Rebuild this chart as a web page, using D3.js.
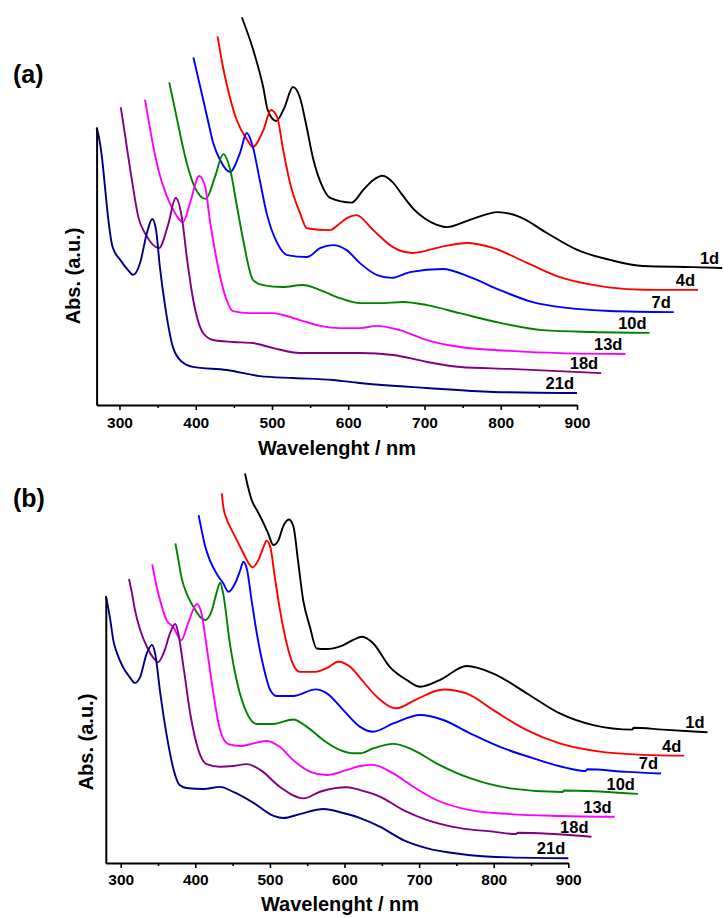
<!DOCTYPE html>
<html>
<head>
<meta charset="utf-8">
<script src="https://cdn.jsdelivr.net/npm/d3@7"></script>
<style>
  body { margin: 0; background: #fff; }
  svg { display: block; }
  text { font-family: "Liberation Sans", Arial, Helvetica, sans-serif; font-weight: bold; fill: #000; }
</style>
</head>
<body>
<svg id="chart" width="723" height="918"></svg>
<script>
// ---- data: UV-Vis spectra, [wavelength nm, absorbance a.u.] ----
const seriesNames = ["1d", "4d", "7d", "10d", "13d", "18d", "21d"];
const seriesColors = ["#000000", "#ff0000", "#0000ff", "#008000", "#ff00ff", "#800080", "#000080"];
const majorTicks = [300, 400, 500, 600, 700, 800, 900];
const minorTicks = [350, 450, 550, 650, 750, 850];

// panel (a)
const a1d = [[270,0.946],[285,0.828],[298,0.695],[304,0.612],[315,0.573],[326,0.622],[337,0.695],[346,0.659],[355,0.551],[363,0.443],[376,0.335],[386,0.296],[414,0.279],[429,0.324],[442,0.360],[455,0.376],[468,0.352],[481,0.305],[495,0.257],[510,0.222],[525,0.200],[539,0.191],[569,0.217],[606,0.245],[635,0.227],[670,0.170],[710,0.109],[753,0.073],[796,0.051],[862,0.047],[900,0.044]];
const a4d = [[270,0.952],[277,0.842],[286,0.734],[295,0.651],[309,0.579],[316,0.554],[330,0.615],[340,0.687],[348,0.662],[356,0.543],[365,0.424],[378,0.317],[387,0.262],[417,0.255],[431,0.281],[440,0.299],[452,0.309],[474,0.255],[500,0.194],[526,0.173],[562,0.194],[597,0.209],[631,0.191],[676,0.137],[719,0.086],[762,0.058],[807,0.043],[850,0.040],[900,0.040]];
const a7d = [[270,0.951],[279,0.845],[288,0.737],[296,0.643],[305,0.582],[318,0.539],[331,0.607],[340,0.679],[348,0.629],[357,0.510],[366,0.391],[380,0.283],[393,0.240],[419,0.233],[436,0.265],[453,0.276],[471,0.258],[488,0.212],[511,0.168],[530,0.158],[554,0.179],[597,0.190],[633,0.161],[672,0.114],[715,0.071],[760,0.050],[816,0.039],[900,0.035]];
const a10d = [[270,0.936],[275,0.873],[284,0.754],[293,0.646],[304,0.556],[318,0.517],[330,0.596],[341,0.678],[350,0.621],[359,0.488],[367,0.369],[380,0.225],[393,0.207],[419,0.200],[445,0.207],[468,0.189],[494,0.160],[520,0.142],[546,0.142],[577,0.146],[608,0.135],[651,0.106],[704,0.071],[760,0.045],[826,0.038],[900,0.035]];
const a13d = [[270,0.949],[274,0.886],[280,0.793],[290,0.671],[299,0.599],[307,0.552],[320,0.509],[329,0.577],[341,0.674],[349,0.635],[355,0.516],[364,0.372],[377,0.228],[385,0.188],[408,0.181],[438,0.181],[451,0.174],[473,0.156],[500,0.135],[526,0.127],[552,0.127],[574,0.135],[604,0.120],[640,0.084],[683,0.059],[749,0.045],[814,0.037],[900,0.034]];
const a18d = [[270,0.996],[274,0.925],[279,0.832],[286,0.709],[293,0.601],[303,0.537],[320,0.490],[332,0.573],[342,0.670],[350,0.601],[357,0.447],[365,0.303],[378,0.184],[391,0.159],[417,0.152],[443,0.148],[470,0.130],[505,0.112],[548,0.112],[584,0.112],[627,0.105],[672,0.080],[715,0.062],[780,0.055],[900,0.040]];
const a21d = [[270,0.997],[273,0.964],[277,0.892],[281,0.784],[285,0.676],[291,0.568],[301,0.522],[311,0.486],[318,0.468],[327,0.511],[336,0.619],[343,0.669],[348,0.629],[353,0.496],[360,0.353],[370,0.209],[382,0.155],[396,0.137],[441,0.126],[484,0.104],[528,0.097],[580,0.090],[615,0.079],[703,0.061],[790,0.047],[900,0.043]];

// panel (b)
const b1d = [[280,0.991],[284,0.941],[289,0.891],[296,0.853],[304,0.809],[311,0.766],[318,0.722],[325,0.741],[331,0.791],[339,0.818],[345,0.791],[351,0.665],[358,0.515],[367,0.415],[376,0.333],[388,0.331],[412,0.346],[425,0.365],[437,0.377],[452,0.352],[474,0.264],[497,0.214],[515,0.189],[541,0.214],[577,0.267],[613,0.239],[658,0.164],[702,0.089],[747,0.045],[799,0.028],[801,0.035],[840,0.028],[900,0.018]];
const b4d = [[280,0.995],[282,0.945],[287,0.895],[291,0.870],[300,0.820],[309,0.770],[316,0.732],[321,0.717],[329,0.744],[336,0.794],[340,0.817],[345,0.794],[351,0.682],[358,0.556],[367,0.431],[376,0.350],[385,0.324],[405,0.324],[422,0.340],[436,0.362],[452,0.343],[467,0.296],[488,0.230],[514,0.187],[541,0.221],[577,0.258],[608,0.243],[644,0.180],[689,0.105],[733,0.055],[787,0.024],[845,0.012],[900,0.009]];
const b7d = [[280,0.992],[284,0.936],[289,0.873],[295,0.823],[304,0.773],[313,0.736],[320,0.704],[329,0.736],[336,0.786],[340,0.817],[345,0.786],[351,0.673],[358,0.548],[367,0.422],[376,0.335],[385,0.312],[407,0.312],[437,0.337],[452,0.322],[474,0.259],[496,0.197],[514,0.178],[541,0.209],[577,0.241],[608,0.222],[644,0.172],[684,0.121],[729,0.078],[773,0.042],[799,0.030],[801,0.037],[854,0.027],[900,0.021]];
const b10d = [[280,0.965],[284,0.902],[288,0.839],[295,0.777],[304,0.727],[313,0.689],[320,0.677],[329,0.714],[335,0.777],[340,0.817],[344,0.777],[353,0.589],[362,0.451],[376,0.326],[389,0.286],[411,0.286],[438,0.303],[456,0.276],[478,0.226],[501,0.188],[519,0.176],[528,0.176],[545,0.194],[572,0.211],[599,0.188],[630,0.138],[675,0.082],[729,0.044],[799,0.030],[801,0.036],[900,0.023]];
const b13d = [[280,0.965],[286,0.881],[293,0.806],[299,0.756],[308,0.730],[319,0.680],[328,0.743],[340,0.816],[346,0.781],[353,0.655],[362,0.480],[371,0.342],[382,0.289],[398,0.282],[416,0.292],[434,0.301],[451,0.279],[469,0.229],[492,0.185],[514,0.173],[541,0.192],[559,0.207],[576,0.211],[603,0.179],[630,0.129],[661,0.079],[706,0.041],[760,0.026],[827,0.019],[900,0.016]];
const b18d = [[280,0.989],[284,0.935],[288,0.872],[295,0.797],[304,0.734],[313,0.691],[319,0.676],[328,0.722],[335,0.785],[342,0.820],[346,0.785],[353,0.659],[362,0.484],[373,0.346],[384,0.293],[402,0.283],[420,0.286],[438,0.293],[456,0.271],[482,0.208],[514,0.164],[536,0.189],[572,0.206],[590,0.195],[617,0.170],[648,0.120],[679,0.083],[724,0.052],[768,0.039],[799,0.030],[801,0.035],[900,0.020]];
const b21d = [[280,1.004],[282,0.977],[286,0.914],[290,0.838],[295,0.789],[303,0.737],[312,0.699],[319,0.677],[326,0.699],[335,0.789],[342,0.820],[346,0.789],[353,0.639],[362,0.474],[371,0.350],[379,0.293],[388,0.282],[411,0.278],[433,0.286],[451,0.267],[478,0.226],[505,0.177],[518,0.169],[540,0.184],[572,0.203],[598,0.188],[621,0.169],[648,0.136],[679,0.086],[710,0.056],[755,0.034],[822,0.021],[900,0.018]];

// waterfall step between consecutive spectra: [nm, a.u.]
const waterfallStepA = [31.74, 0.0748];
const waterfallStepB = [31.1, 0.0789];

// ---- layout ----
const panels = [
  { tag: "(a)", series: [a1d, a4d, a7d, a10d, a13d, a18d, a21d], step: waterfallStepA,
    xDomain: [270, 900], xRange: [96.6, 577], yRange: [405, 127],
    tagXY: [13, 83], yTitleXY: [80, 276], xTitleXY: [337, 455], tickLabelDy: 23 },
  { tag: "(b)", series: [b1d, b4d, b7d, b10d, b13d, b18d, b21d], step: waterfallStepB,
    xDomain: [280, 900], xRange: [105.8, 568.3], yRange: [863, 597],
    tagXY: [13, 507], yTitleXY: [93, 742], xTitleXY: [340, 911], tickLabelDy: 22 }
];

const svg = d3.select("#chart");

panels.forEach(p => {
  const g = svg.append("g");
  const x = d3.scaleLinear().domain(p.xDomain).range(p.xRange);
  const y = d3.scaleLinear().domain([0, 1]).range(p.yRange);
  const n = p.series.length;

  // spectra, back (1d) to front (21d)
  p.series.forEach((data, i) => {
    const k = n - 1 - i;               // depth index of this spectrum
    const dxNm = k * p.step[0], dyAbs = k * p.step[1];
    const line = d3.line()
      .x(d => x(d[0] + dxNm))
      .y(d => y(d[1] + dyAbs))
      .curve(d3.curveMonotoneX);
    g.append("path")
      .datum(data)
      .attr("d", line)
      .attr("fill", "none")
      .attr("stroke", seriesColors[i])
      .attr("stroke-width", 1.9)
      .attr("stroke-linejoin", "round");

    const last = data[data.length - 1];
    g.append("text")
      .attr("x", x(last[0] + dxNm) - 3)
      .attr("y", y(last[1] + dyAbs) - 4)
      .attr("text-anchor", "end")
      .attr("font-size", 16.5)
      .text(seriesNames[i]);
  });

  // x axis: major ticks with labels
  const xAxis = g.append("g")
    .attr("transform", `translate(0,${p.yRange[0]})`)
    .call(d3.axisBottom(x).tickValues(majorTicks).tickSize(5).tickSizeOuter(0).tickFormat(d3.format("d")));
  xAxis.select(".domain").attr("stroke", "#000").attr("stroke-width", 2);
  xAxis.selectAll(".tick line").attr("stroke", "#000").attr("stroke-width", 1.6);
  xAxis.selectAll(".tick text")
    .attr("y", p.tickLabelDy).attr("dy", 0)
    .attr("font-size", 15.5)
    .style("font-family", "'Liberation Sans', Arial, sans-serif")
    .style("font-weight", "bold")
    .attr("fill", "#000");

  // x axis: minor ticks
  const xMinor = g.append("g")
    .attr("transform", `translate(0,${p.yRange[0]})`)
    .call(d3.axisBottom(x).tickValues(minorTicks).tickSize(3).tickSizeOuter(0).tickFormat(""));
  xMinor.select(".domain").remove();
  xMinor.selectAll(".tick line").attr("stroke", "#000").attr("stroke-width", 1.6);

  // y axis: plain line, no ticks
  const yAxis = g.append("g")
    .attr("transform", `translate(${x(p.xDomain[0])},0)`)
    .call(d3.axisLeft(y).tickValues([]).tickSizeOuter(0));
  yAxis.select(".domain").attr("stroke", "#000").attr("stroke-width", 2);

  // titles
  g.append("text")
    .attr("x", p.xTitleXY[0]).attr("y", p.xTitleXY[1])
    .attr("text-anchor", "middle").attr("font-size", 20)
    .text("Wavelenght / nm");
  g.append("text")
    .attr("transform", `translate(${p.yTitleXY[0]},${p.yTitleXY[1]}) rotate(-90)`)
    .attr("text-anchor", "middle").attr("font-size", 20)
    .text("Abs. (a.u.)");
  g.append("text")
    .attr("x", p.tagXY[0]).attr("y", p.tagXY[1])
    .attr("font-size", 25)
    .text(p.tag);
});
</script>
</body>
</html>
